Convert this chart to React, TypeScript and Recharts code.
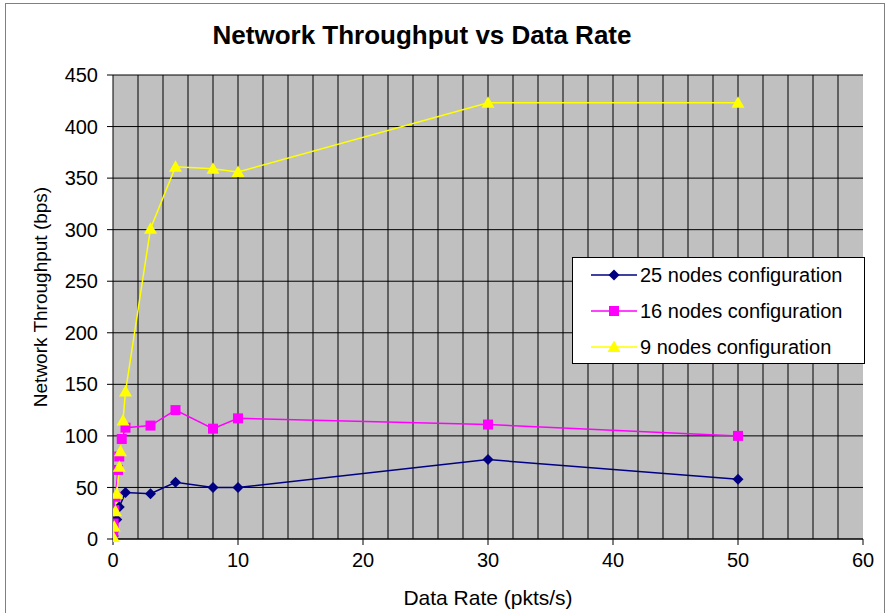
import React from "react";
import {
  CartesianGrid,
  ComposedChart,
  Label,
  Line,
  ReferenceLine,
  XAxis,
  YAxis,
} from "recharts";

// data rates (pkts/s) and measured throughput (bps) per configuration
const rate25 = [0.02, 0.1, 0.3, 0.5, 1, 3, 5, 8, 10, 30, 50];
const thr25 = [3, 8, 19, 31, 45, 44, 55, 50, 50, 77, 58];

const rate16 = [0.02, 0.05, 0.1, 0.2, 0.4, 0.5, 0.7, 1, 3, 5, 8, 10, 30, 50];
const thr16 = [7, 15, 28, 41, 67, 80, 97, 108, 110, 125, 107, 117, 111, 100];

const rate9 = [0.02, 0.1, 0.2, 0.3, 0.5, 0.6, 0.8, 1, 3, 5, 8, 10, 30, 50];
const thr9 = [2, 12, 27, 44, 70, 85, 115, 143, 301, 361, 359, 356, 423, 423];

const xTicks = [0, 10, 20, 30, 40, 50, 60];
const yTicks = [0, 50, 100, 150, 200, 250, 300, 350, 400, 450];
const xMinorGrid = Array.from({ length: 29 }, (_, i) => (i + 1) * 2);

const series = [
  { name: "25 nodes configuration", color: "#000080", shape: "diamond", x: rate25, y: thr25 },
  { name: "16 nodes configuration", color: "#ff00ff", shape: "square", x: rate16, y: thr16 },
  { name: "9 nodes configuration", color: "#ffff00", shape: "triangle", x: rate9, y: thr9 },
];

const FONT = "'Liberation Sans', Arial, sans-serif";

function Marker({ shape, color, cx, cy }: { shape: string; color: string; cx: number; cy: number }) {
  if (shape === "diamond") {
    const s = 5.5;
    return <polygon points={`${cx},${cy - s} ${cx + s},${cy} ${cx},${cy + s} ${cx - s},${cy}`} fill={color} />;
  }
  if (shape === "square") {
    return <rect x={cx - 5} y={cy - 5} width={10} height={10} fill={color} />;
  }
  return <polygon points={`${cx},${cy - 6.5} ${cx + 6.5},${cy + 5} ${cx - 6.5},${cy + 5}`} fill={color} />;
}

function Overlay() {
  return (
    <svg width={890} height={613} style={{ position: "absolute", left: 0, top: 0, pointerEvents: "none" }}>
      <rect x={5.5} y={3.5} width={879} height={611} fill="none" stroke="#808080" />
      <text x={422} y={44} textAnchor="middle" fontFamily={FONT} fontSize={26} fontWeight="bold" fill="#000">
        Network Throughput vs Data Rate
      </text>
      <text
        x={47}
        y={297}
        transform="rotate(-90 47 297)"
        textAnchor="middle"
        fontFamily={FONT}
        fontSize={19}
        fill="#000"
      >
        Network Throughput (bps)
      </text>
      <rect x={572.5} y={257.5} width={292} height={106} fill="#fff" stroke="#000" />
      {series.map((s, i) => {
        const cy = 275 + i * 36;
        return (
          <g key={s.name}>
            <line x1={591} y1={cy} x2={637} y2={cy} stroke={s.color} strokeWidth={1.5} />
            <Marker shape={s.shape} color={s.color} cx={614} cy={cy} />
            <text x={640} y={cy + 7} fontFamily={FONT} fontSize={20} fill="#000">
              {s.name}
            </text>
          </g>
        );
      })}
    </svg>
  );
}

export default function App() {
  return (
    <div
      style={{
        position: "absolute",
        left: 0,
        top: 0,
        width: 890,
        height: 613,
        background: "#fff",
        fontFamily: FONT,
      }}
    >
      <div style={{ position: "absolute", left: 0, top: 0 }}>
        <ComposedChart width={890} height={613} margin={{ top: 75, right: 27, left: 0, bottom: 0 }}>
          <CartesianGrid vertical={false} fill="#c0c0c0" stroke="#000" strokeOpacity={1} />
          {xMinorGrid.map((v) => (
            <ReferenceLine key={v} x={v} stroke="#000" strokeWidth={1} ifOverflow="hidden" />
          ))}
          <XAxis
            type="number"
            dataKey="x"
            domain={[0, 60]}
            ticks={xTicks}
            allowDataOverflow
            height={74}
            tickSize={6}
            tickMargin={8}
            stroke="#000"
            tick={{ fill: "#000", fontSize: 20, fontFamily: FONT }}
          >
            <Label
              value="Data Rate (pkts/s)"
              position="insideBottom"
              offset={8}
              style={{ fill: "#000", fontSize: 21, fontFamily: FONT }}
            />
          </XAxis>
          <YAxis
            type="number"
            domain={[0, 450]}
            ticks={yTicks}
            width={113}
            tickSize={6}
            tickMargin={9}
            stroke="#000"
            tick={{ fill: "#000", fontSize: 20, fontFamily: FONT }}
          />
          {series.map((s) => (
            <Line
              key={s.name}
              name={s.name}
              data={s.x.map((x, i) => ({ x, y: s.y[i] }))}
              dataKey="y"
              type="linear"
              stroke={s.color}
              strokeWidth={1.5}
              isAnimationActive={false}
              dot={(p: any) => (
                <Marker key={`${s.name}-${p.index}`} shape={s.shape} color={s.color} cx={p.cx} cy={p.cy} />
              )}
              activeDot={false}
            />
          ))}
        </ComposedChart>
      </div>
      <Overlay />
    </div>
  );
}
